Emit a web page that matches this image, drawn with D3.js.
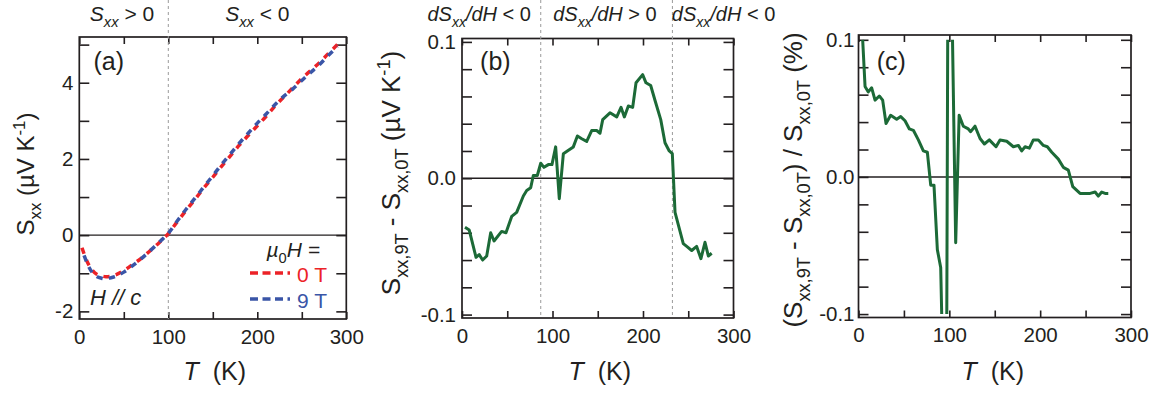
<!DOCTYPE html>
<html>
<head>
<meta charset="utf-8">
<script src="https://cdn.jsdelivr.net/npm/d3@7"></script>
<style>
  html, body { margin: 0; padding: 0; background: #fff; }
  svg { display: block; }
  text { font-family: "Liberation Sans", Arial, Helvetica, sans-serif; fill: #231f20; }
</style>
</head>
<body>
<svg id="fig" width="1153" height="394"></svg>
<script>
// ---- (a) Seebeck coefficient S_xx(T) at 0 T and 9 T ----
const tempA = [3, 6, 10, 15, 20, 25, 30, 35, 40, 50, 60, 70, 80, 90, 100, 110, 120, 130, 140, 150,
  160, 170, 180, 190, 200, 210, 220, 230, 240, 250, 260, 270, 280, 290];
const sxx0T = [-0.33, -0.53, -0.75, -0.93, -1.03, -1.07, -1.09, -1.08, -1.05, -0.93, -0.77, -0.60, -0.40, -0.19,
  0.04, 0.35, 0.65, 0.94, 1.24, 1.52, 1.81, 2.09, 2.37, 2.62, 2.87, 3.12, 3.39, 3.63, 3.87, 4.11, 4.32, 4.53, 4.77, 5.00];
const sxx9T = [-0.37, -0.57, -0.80, -0.99, -1.09, -1.13, -1.15, -1.12, -1.09, -0.97, -0.80, -0.61, -0.40, -0.18,
  0.05, 0.37, 0.68, 0.97, 1.27, 1.56, 1.86, 2.14, 2.42, 2.68, 2.94, 3.18, 3.43, 3.65, 3.84, 4.06, 4.27, 4.48, 4.72, 4.95];

// ---- (b) S_xx,9T - S_xx,0T ----
const tempB = [3.3, 8, 15.5, 19, 22.8, 27.3, 31.7, 35.4, 43.8, 48.6, 54.9, 60.4, 67.8, 71.5, 75.9, 78.8, 83.2, 87,
  90.6, 95.4, 99.4, 103.5, 107.5, 112, 116.4, 123, 127.5, 132.3, 137.8, 143.3, 148.8, 152.5, 155.5, 163.5, 171,
  175.7, 179.4, 183.8, 188.6, 192.3, 199.6, 203.3, 208.5, 213.3, 219.6, 224.3, 229, 232.4, 235.4, 244.5, 248.3,
  253.8, 259.3, 264, 268.5, 272.2, 275.9];
const diffB = [-0.036, -0.038, -0.058, -0.056, -0.060, -0.057, -0.040, -0.046, -0.039, -0.040, -0.028, -0.025,
  -0.013, -0.009, -0.007, 0.002, 0.002, 0.011, 0.008, 0.010, 0.010, 0.023, -0.015, 0.018, 0.020, 0.023, 0.031,
  0.029, 0.027, 0.035, 0.035, 0.033, 0.043, 0.048, 0.045, 0.052, 0.045, 0.053, 0.052, 0.070, 0.076, 0.070, 0.068,
  0.057, 0.043, 0.026, 0.020, 0.018, -0.025, -0.048, -0.050, -0.053, -0.050, -0.059, -0.047, -0.057, -0.055];

// ---- (c) relative change (%) ; null marks points outside the plotted range ----
const tempC = [4.6, 7.2, 10.8, 14.5, 18.2, 22.9, 26.6, 30.3, 35.4, 42, 46.5, 51.2, 56, 60.4, 65.9, 71.4, 75.8,
  79.5, 83.1, 86.8, 90.5, 91.6, 94.5, 97.2, 98.2, 100.8, 103.5, 107, 110.8, 115.4, 120.9, 123.5, 128.3, 133.8,
  138.6, 144, 151.4, 155.8, 163.2, 170.5, 176, 179.7, 183.4, 188.1, 192.5, 198, 203.5, 207.9, 212.8, 220, 225.5,
  231, 235.9, 243.9, 255, 260.5, 264, 267.8, 271.5, 275];
const ratioC = [0.1, 0.066, 0.062, 0.065, 0.056, 0.059, 0.056, 0.039, 0.045, 0.042, 0.044, 0.041, 0.035, 0.034,
  0.027, 0.019, 0.018, -0.006, -0.006, -0.053, -0.066, -0.1, null, -0.1, 0.1, null, 0.1, -0.048, 0.045, 0.037,
  0.035, 0.033, 0.037, 0.028, 0.024, 0.027, 0.022, 0.027, 0.026, 0.022, 0.023, 0.019, 0.022, 0.021, 0.027, 0.027,
  0.023, 0.022, 0.018, 0.013, 0.007, 0.005, -0.007, -0.012, -0.012, -0.011, -0.014, -0.011, -0.012, -0.012];

// ---- ticks and labels ----
const xTicks = [0, 50, 100, 150, 200, 250, 300];
const xTickLabels = ["0", "100", "200", "300"];
const yTicksA = [-2, -1, 0, 1, 2, 3, 4, 5];
const yTickLabelsA = ["-2", "0", "2", "4"];
const yTicksBC = [-0.1, -0.08, -0.06, -0.04, -0.02, 0, 0.02, 0.04, 0.06, 0.08, 0.1];
const yTickLabelsBC = ["-0.1", "0.0", "0.1"];
const legendFields = ["0 T", "9 T"];
const dividerA = [100];
const dividersB = [87, 232.5];

const RED = "#ec2227", BLUE = "#3a55a7", GREEN = "#1c6a37", INK = "#231f20";
const svg = d3.select("#fig");
svg.append("rect").attr("width", 1153).attr("height", 394).attr("fill", "#fff");

// text made of plain / italic / sub / sup pieces
function rich(sel, parts, size) {
  const t = sel.append("text").attr("font-size", size);
  let shift = 0;
  parts.forEach(p => {
    const [str, style] = p;
    const want = style && style.includes("sub") ? size * 0.3 : style && style.includes("sup") ? -size * 0.38 : 0;
    const ts = t.append("tspan").text(str).attr("dy", want - shift);
    shift = want;
    if (style && (style.includes("sub") || style.includes("sup"))) ts.attr("font-size", size * 0.7);
    if (style && style.includes("i")) ts.attr("font-style", "italic");
  });
  return t;
}

function panel(opt) {
  const x = d3.scaleLinear().domain([0, 300]).range(opt.xr);
  const y = d3.scaleLinear().domain(opt.yd).range(opt.yr);
  const g = svg.append("g");
  const [x0, x1] = opt.xr, [y0, y1] = opt.yr;

  // zero line
  g.append("line").attr("x1", x0).attr("x2", x1).attr("y1", y(0)).attr("y2", y(0))
    .attr("stroke", INK).attr("stroke-width", 1.4);

  const xl = d => (d % 100 === 0 ? xTickLabels[d / 100] : "");
  const styleAxis = a => {
    a.select(".domain").remove();
    a.selectAll(".tick line").attr("stroke", INK).attr("stroke-width", 1.6);
    a.selectAll(".tick text").attr("font-size", 20.5).attr("fill", INK)
      .attr("font-family", "'Liberation Sans', Arial, sans-serif");
  };
  g.append("g").attr("transform", `translate(0,${y0})`)
    .call(d3.axisBottom(x).tickValues(xTicks).tickSize(-7).tickPadding(10).tickFormat(xl)).call(styleAxis);
  g.append("g").attr("transform", `translate(0,${y1})`)
    .call(d3.axisTop(x).tickValues(xTicks).tickSize(-7).tickFormat("")).call(styleAxis);
  g.append("g").attr("transform", `translate(${x0},0)`)
    .call(d3.axisLeft(y).tickValues(opt.yTicks).tickSize(-10).tickPadding(opt.ypad).tickFormat(opt.yfmt))
    .call(styleAxis);
  g.append("g").attr("transform", `translate(${x1},0)`)
    .call(d3.axisRight(y).tickValues(opt.yTicks).tickSize(-10).tickFormat("")).call(styleAxis);

  // frame
  g.append("rect").attr("x", x0).attr("y", y1).attr("width", x1 - x0).attr("height", y0 - y1)
    .attr("fill", "none").attr("stroke", INK).attr("stroke-width", 1.7);

  // x title
  rich(g, [["T", "i"], ["  (K)"]], 25).attr("x", (x0 + x1) / 2 + opt.titleDx).attr("y", 380)
    .attr("text-anchor", "middle").attr("xml:space", "preserve");

  // panel tag
  g.append("text").attr("x", x(opt.tagT)).attr("y", 70).attr("font-size", 25).text(opt.tag);
  return { x, y, g };
}

// ---------- (a) ----------
const A = panel({ xr: [79.3, 346.3], yr: [319, 37], yd: [-2.2, 5.2], yTicks: yTicksA, ypad: 6,
  yfmt: d => (d % 2 === 0 ? yTickLabelsA[(d + 2) / 2] : ""), tag: "(a)", tagT: 16, titleDx: 2 });
dividerA.forEach(t => A.g.append("line").attr("x1", A.x(t)).attr("x2", A.x(t)).attr("y1", 0).attr("y2", 319)
  .attr("stroke", "#9a9a9a").attr("stroke-width", 1).attr("stroke-dasharray", "3,3"));
const lineA = vals => d3.line().x((d, i) => A.x(tempA[i])).y(d => A.y(d)).curve(d3.curveMonotoneX)(vals);
A.g.append("path").attr("d", lineA(sxx0T)).attr("fill", "none").attr("stroke", RED)
  .attr("stroke-width", 3.5).attr("stroke-dasharray", "6.3,6.3");
A.g.append("path").attr("d", lineA(sxx9T)).attr("fill", "none").attr("stroke", BLUE)
  .attr("stroke-width", 3.5).attr("stroke-dasharray", "6.3,6.3").attr("stroke-dashoffset", 6.3);

rich(svg, [["S", "i"], ["xx", "i sub"], [" > 0"]], 21).attr("x", A.x(48)).attr("y", 21).attr("text-anchor", "middle");
rich(svg, [["S", "i"], ["xx", "i sub"], [" < 0"]], 21).attr("x", A.x(200)).attr("y", 21).attr("text-anchor", "middle");

rich(svg, [["S"], ["xx", "sub"], [" (\u00b5V K"], ["-1", "sup"], [")"]], 24)
  .attr("text-anchor", "middle").attr("transform", "translate(34,174) rotate(-90)");

// legend
rich(svg, [["\u00b5", "i"], ["0", "sub"], ["H =", "i"]], 21).attr("x", 320).attr("y", 257).attr("text-anchor", "end");
[RED, BLUE].forEach((c, i) => {
  const yy = 273 + i * 26;
  svg.append("line").attr("x1", 250).attr("x2", 290).attr("y1", yy).attr("y2", yy)
    .attr("stroke", c).attr("stroke-width", 3.5).attr("stroke-dasharray", "8,4.5");
  svg.append("text").attr("x", 327).attr("y", yy + 9).attr("font-size", 21)
    .attr("text-anchor", "end").style("fill", c).text(legendFields[i]);
});
rich(svg, [["H // c", "i"]], 22).attr("x", 90).attr("y", 305);

// ---------- (b) ----------
const fmtBC = d => (Math.abs(d - 0.1) < 1e-9 ? yTickLabelsBC[2] : Math.abs(d) < 1e-9 ? yTickLabelsBC[1]
  : Math.abs(d + 0.1) < 1e-9 ? yTickLabelsBC[0] : "");
const B = panel({ xr: [462, 733.5], yr: [318, 38.5], yd: [-0.1025, 0.1025], yTicks: yTicksBC, ypad: 6,
  yfmt: fmtBC, tag: "(b)", tagT: 20, titleDx: 2 });
dividersB.forEach(t => B.g.append("line").attr("x1", B.x(t)).attr("x2", B.x(t)).attr("y1", 0).attr("y2", 318)
  .attr("stroke", "#9a9a9a").attr("stroke-width", 1).attr("stroke-dasharray", "3,3"));
B.g.append("path").attr("fill", "none").attr("stroke", GREEN).attr("stroke-width", 3).attr("stroke-linejoin", "round")
  .attr("d", d3.line().x((d, i) => B.x(tempB[i])).y(d => B.y(d))(diffB));

[[19, "<"], [158, ">"], [289, "<"]].forEach(([t, s]) =>
  rich(svg, [["dS", "i"], ["xx", "i sub"], ["/dH", "i"], [` ${s} 0`]], 20)
    .attr("x", B.x(t)).attr("y", 21).attr("text-anchor", "middle"));

rich(svg, [["S"], ["xx,9T", "sub"], [" - S"], ["xx,0T", "sub"], [" (\u00b5V K"], ["-1", "sup"], [")"]], 26)
  .attr("text-anchor", "middle").attr("transform", "translate(400,173) rotate(-90)");

// ---------- (c) ----------
const C = panel({ xr: [858.5, 1131], yr: [317.5, 35], yd: [-0.1025, 0.1035], yTicks: yTicksBC, ypad: 4,
  yfmt: fmtBC, tag: "(c)", tagT: 20, titleDx: -2 });
C.g.append("path").attr("fill", "none").attr("stroke", GREEN).attr("stroke-width", 3).attr("stroke-linejoin", "round")
  .attr("d", d3.line().defined(d => d !== null).x((d, i) => C.x(tempC[i])).y(d => C.y(d))(ratioC));

rich(svg, [["(S"], ["xx,9T", "sub"], [" - S"], ["xx,0T", "sub"], [") / S"], ["xx,0T", "sub"], [" (%)"]], 26)
  .attr("text-anchor", "middle").attr("transform", "translate(802,180) rotate(-90)");
</script>
</body>
</html>
